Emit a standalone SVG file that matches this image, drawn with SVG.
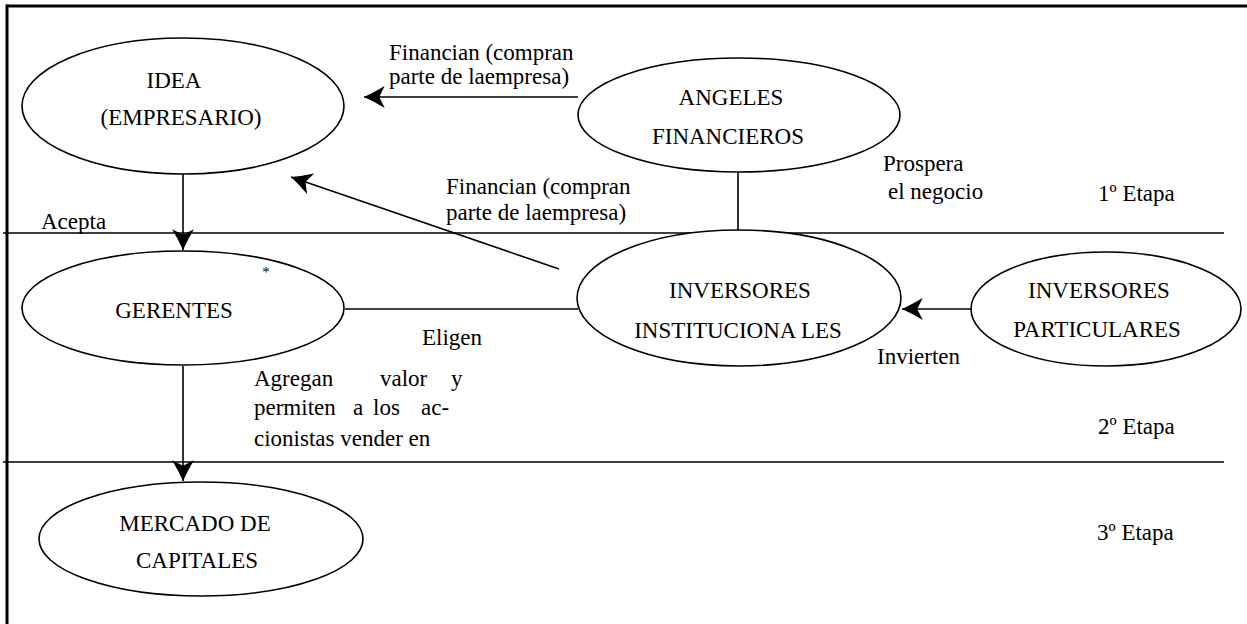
<svg xmlns="http://www.w3.org/2000/svg" width="1247" height="624" viewBox="0 0 1247 624">
<style>
  text { font-family: "Liberation Serif", "Times New Roman", "DejaVu Serif", serif; font-size: 23px; fill: #000; }
  .node ellipse { fill: #fff; stroke: #000; stroke-width: 1.6; }
  .conn line { stroke: #000; stroke-width: 1.6; fill: none; }
  .rule { stroke: #000; stroke-width: 1.6; }
  .border { stroke: #000; stroke-width: 3; }
  .mid { text-anchor: middle; }
</style>
<defs>
  <marker id="arr" markerUnits="userSpaceOnUse" markerWidth="24" markerHeight="24" viewBox="-20 -11 22 22" refX="0" refY="0" orient="auto">
    <path d="M0,0 Q-9,-4 -19,-10 L-14,0 L-19,10 Q-9,4 0,0 Z" fill="#000"/>
  </marker>
</defs>
<rect width="1247" height="624" fill="#fff"/>

<!-- page borders and stage rules -->
<g id="frame">
  <line class="border" x1="7" y1="6" x2="1247" y2="6"/>
  <line class="border" x1="7" y1="4.5" x2="7" y2="624"/>
  <line class="rule" x1="3" y1="233" x2="1224" y2="233"/>
  <line class="rule" x1="3" y1="462" x2="1224" y2="462"/>
</g>

<g class="conn" id="connectors">
  <line x1="578" y1="97" x2="364" y2="97" marker-end="url(#arr)"/>
  <line x1="559" y1="269" x2="291" y2="177" marker-end="url(#arr)"/>
  <line x1="183" y1="174" x2="183" y2="250" marker-end="url(#arr)"/>
  <line x1="738" y1="172" x2="738" y2="231"/>
  <line x1="345" y1="309" x2="578" y2="309"/>
  <line x1="972" y1="309" x2="902" y2="309" marker-end="url(#arr)"/>
  <line x1="183" y1="366" x2="183" y2="481" marker-end="url(#arr)"/>
</g>

<g class="node" id="idea">
  <ellipse cx="183" cy="106" rx="161" ry="68"/>
  <text x="174" y="88" class="mid">IDEA</text>
  <text x="181" y="125" class="mid">(EMPRESARIO)</text>
</g>

<g class="node" id="angeles">
  <ellipse cx="739" cy="115" rx="161" ry="57"/>
  <text x="731" y="105" class="mid">ANGELES</text>
  <text x="728" y="144" class="mid">FINANCIEROS</text>
</g>

<g class="node" id="gerentes">
  <ellipse cx="183" cy="308" rx="161" ry="57"/>
  <text x="174" y="318" class="mid">GERENTES</text>
  <text x="266" y="277" style="font-size:15px" class="mid">*</text>
</g>

<g class="node" id="institucionales">
  <ellipse cx="739" cy="298" rx="162" ry="68"/>
  <text x="740" y="298" class="mid">INVERSORES</text>
  <text x="738" y="338" class="mid">INSTITUCIONA LES</text>
</g>

<g class="node" id="particulares">
  <ellipse cx="1106" cy="309" rx="135" ry="57"/>
  <text x="1099" y="298" class="mid">INVERSORES</text>
  <text x="1097" y="337" class="mid">PARTICULARES</text>
</g>

<g class="node" id="mercado">
  <ellipse cx="201" cy="539" rx="162" ry="57"/>
  <text x="195" y="531" class="mid">MERCADO DE</text>
  <text x="197" y="568" class="mid">CAPITALES</text>
</g>

<g id="labels">
  <text x="389" y="60">Financian (compran</text>
  <text x="389" y="84">parte de laempresa)</text>
  <text x="446" y="194">Financian (compran</text>
  <text x="446" y="220">parte de laempresa)</text>
  <text x="41" y="229">Acepta</text>
  <text x="883" y="171">Prospera</text>
  <text x="888" y="199">el negocio</text>
  <text x="422" y="345">Eligen</text>
  <text x="877" y="364">Invierten</text>
  <text y="386"><tspan x="254">Agregan</tspan><tspan x="380">valor</tspan><tspan x="451">y</tspan></text>
  <text y="415"><tspan x="254">permiten</tspan><tspan x="353">a</tspan><tspan x="373">los</tspan><tspan x="421">ac-</tspan></text>
  <text x="254" y="446">cionistas vender en</text>
  <text x="1098" y="201">1º Etapa</text>
  <text x="1098" y="434">2º Etapa</text>
  <text x="1097" y="540">3º Etapa</text>
</g>
</svg>
